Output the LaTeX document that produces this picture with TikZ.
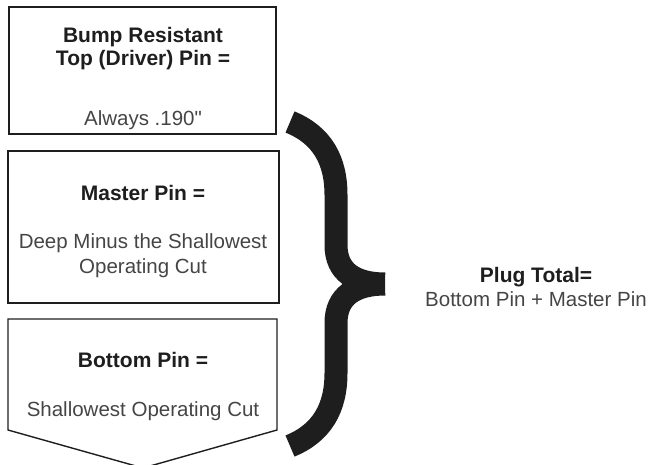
\documentclass[tikz,border=0pt]{standalone}
\usepackage{fontspec}
\setmainfont{Liberation Sans}
\newfontfamily\inchfont{Liberation Sans}
\usetikzlibrary{positioning,calc}
\definecolor{pinink}{HTML}{1E1E1E}
\definecolor{pingray}{HTML}{454545}
\tikzset{
  pinbox/.style={draw=pinink, line width=1.4pt, inner sep=0pt},
  head/.style={font=\fontsize{21}{23}\selectfont\bfseries, text=pinink, align=center, inner sep=0pt},
  body/.style={font=\fontsize{20.5}{25}\selectfont, text=pingray, align=center, inner sep=0pt},
  brace/.style={draw=pinink, line width=23pt, line cap=butt}
}

\begin{document}
\begin{tikzpicture}[x=1pt,y=-1pt]
\useasboundingbox (0,0) rectangle (652,464);
% pin boxes
\node[pinbox, minimum width=267pt, minimum height=127pt] (driver) at (142.5,70.5) {};
\node[pinbox, minimum width=271pt, minimum height=152pt] (master) at (143.5,227) {};
% bottom pin, pointed end
\coordinate (bottomnw) at (8,319);
\coordinate (bottomne) at (277,319);
\coordinate (bottomse) at (277,430);
\coordinate (bottomtip) at (143,468);
\coordinate (bottomsw) at (8,430);
\draw[pinbox, line join=miter] (bottomnw) -- (bottomne) -- (bottomse) -- (bottomtip) -- (bottomsw) -- cycle;
% box texts
\node[head] (drivertitle) at (143,49) {Bump Resistant\\Top (Driver) Pin =};
\node[body] (driverval) at (143,120) {Always .190{\inchfont"}};
\node[head] (mastertitle) at (143,193) {Master Pin =};
\node[body] (masterval) at (143,256) {Deep Minus the Shallowest\\Operating Cut};
\node[head] (bottomtitle) at (143,360) {Bottom Pin =};
\node[body] (bottomval) at (143,411) {Shallowest Operating Cut};
% brace
\coordinate (bracetop) at (290,122);
\coordinate (bracetip) at (385,284);
\coordinate (bracebot) at (290,446);
\draw[brace] (bracetop) .. controls (322,135) and (336,160) .. (336,195) -- (336,245)
    .. controls (336,272) and (355,284) .. (bracetip)
    (bracetip) .. controls (355,284) and (336,296) .. (336,323) -- (336,373)
    .. controls (336,408) and (322,433) .. (bracebot);
% total
\node[head] (plugtitle) at (536,277) {Plug Total=};
\node[body] (plugval) at (536,299) {Bottom Pin + Master Pin};
\end{tikzpicture}
\end{document}
